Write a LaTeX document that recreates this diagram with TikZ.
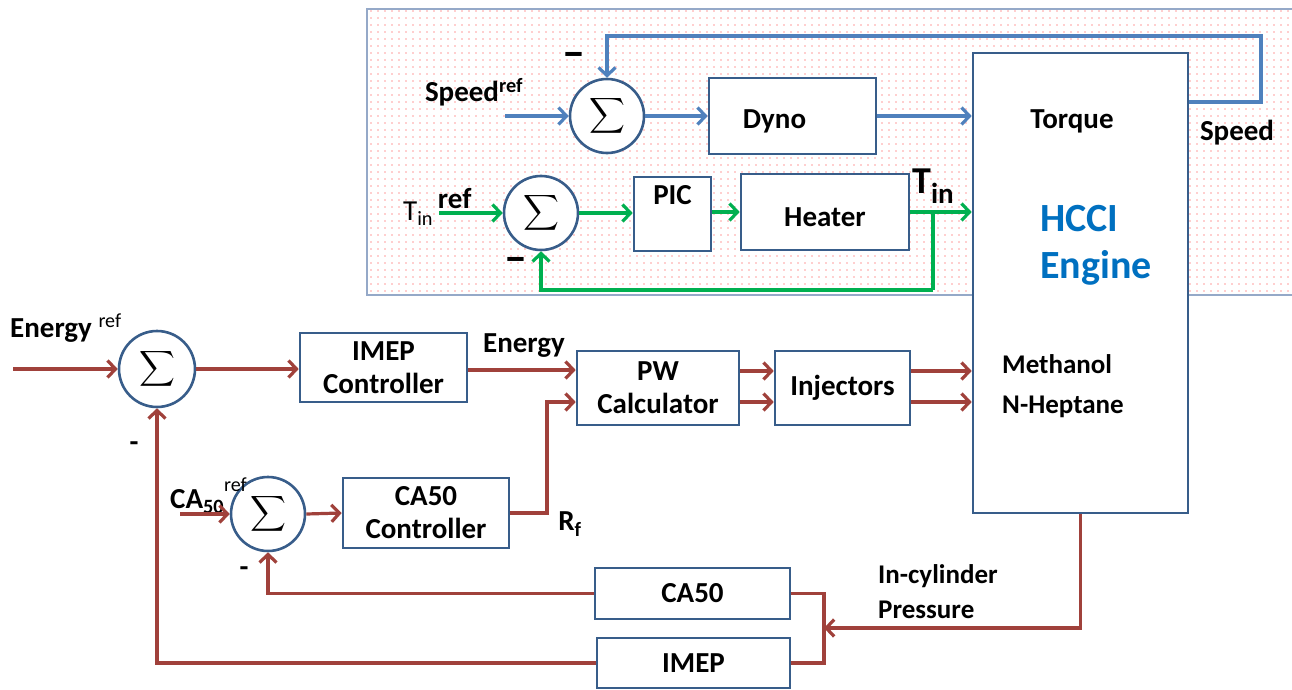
\documentclass[tikz,border=0pt]{standalone}
\usepackage{amsmath}
\usepackage{fontspec}
\setmainfont{Carlito}
\usetikzlibrary{arrows.meta,patterns.meta,calc}
\definecolor{lblue}{HTML}{4F81BD}
\definecolor{bblue}{HTML}{385D8A}
\definecolor{lgreen}{HTML}{00B050}
\definecolor{dred}{HTML}{A0413B}
\definecolor{etext}{HTML}{0070C0}
\definecolor{frm}{HTML}{95A9C8}
\begin{document}
\begin{tikzpicture}[x=1pt,y=-1pt,
  blk/.style={draw=bblue,line width=2.6pt,fill=white,align=center,font=\bfseries\fontsize{29}{33}\selectfont,inner sep=0pt},
  sumc/.style={circle,draw=bblue,line width=2.6pt,fill=white,minimum size=74pt,inner sep=0pt,font=\fontsize{27}{27}\selectfont},
  arr/.style={-{Straight Barb[length=8pt,width=17pt]},line width=3.2pt},
  bl/.style={arr,draw=lblue},
  gn/.style={arr,draw=lgreen},
  rd/.style={arr,draw=dred},
  rdl/.style={line width=3.2pt,draw=dred},
  lbl/.style={font=\bfseries\fontsize{29}{33}\selectfont,inner sep=0pt},
  mns/.style={font=\bfseries\fontsize{46}{46}\selectfont,inner sep=0pt},
  smns/.style={font=\bfseries\fontsize{29}{29}\selectfont,inner sep=0pt}
]
\fill[white] (0,0) rectangle (1292,690);
\useasboundingbox (0,0) rectangle (1292,690);
% dotted panel
\fill[white] (367,9) rectangle (1296,295);
\fill[pattern={Dots[distance=7pt,radius=0.7pt]},pattern color=red!80] (367,9) rectangle (1296,295);
\draw[frm,line width=1.5pt] (367,9) rectangle (1296,295);

% engine
\node[blk,minimum width=215pt,minimum height=460pt] (eng) at (1080.5,283) {};
\node[lbl] (ltorque) at (1072,121) {Torque};
\node[lbl] (lspeed) at (1237,133) {Speed};
\node[anchor=west,align=left,inner sep=0pt,text=etext,font=\bfseries\fontsize{40}{47}\selectfont] (lhcci) at (1040,245) {HCCI\\Engine};
\node[lbl,anchor=west,align=left,font=\bfseries\fontsize{27}{40}\selectfont] (lfuel) at (1002,386) {Methanol\\N-Heptane};

% speed loop
\node[sumc] (s1) at (607,116) {$\displaystyle\sum$};
\node[blk,minimum width=167pt,minimum height=76pt] (dyno) at (792.5,116) {\\[-4pt]Dyno\hspace*{36pt}};
\node[lbl] (lspref) at (474,92) {Speed\textsuperscript{ref}};
\node[mns] (m1) at (574,60) {–};
\coordinate (spin) at (505,116);
\coordinate (spc) at (1261,36);
\draw[bl] (spin) -- (s1.west);
\draw[bl] (s1.east) -- (dyno.west);
\draw[bl] (dyno.east) -- (dyno.east -| eng.west);
\draw[bl] (eng.east |- 0,102) -| (spc) -| (s1.north);

% Tin loop
\node[sumc] (s2) at (541,213) {$\displaystyle\sum$};
\node[blk,minimum width=77pt,minimum height=74pt] (pic) at (672.5,214) {PIC\\[6pt]};
\node[blk,minimum width=168pt,minimum height=76pt] (heater) at (825,212) {\\[-4pt]Heater};
\node[lbl,anchor=west] (ltinref) at (403,207) {\mdseries T\textsubscript{in}\,\raisebox{12pt}{\bfseries ref}};
\node[lbl,anchor=west] (ltin) at (912,186) {{\fontsize{38}{38}\selectfont T}\raisebox{-10pt}{in}};
\node[mns] (m2) at (516,265) {–};
\coordinate (tin) at (439,213);
\coordinate (tbot) at (933,290);
\coordinate (tbr) at (933,212);
\draw[gn] (tin) -- (s2.west);
\draw[gn] (s2.east) -- (s2.east -| pic.west);
\draw[gn] (pic.east |- heater.west) -- (heater.west);
\draw[gn] (heater.east) -- (heater.east -| eng.west);
\draw[line width=3.2pt,draw=lgreen] (tbr) -- (tbot);
\draw[gn] (tbot) -| (s2.south);

% energy loop
\node[sumc,minimum size=76pt] (s3) at (157,369) {$\displaystyle\sum$};
\node[blk,minimum width=167pt,minimum height=69pt] (imep) at (383.5,367.5) {IMEP\\Controller};
\node[blk,minimum width=162pt,minimum height=74pt] (pw) at (658,388) {PW\\Calculator};
\node[blk,minimum width=135pt,minimum height=74pt] (inj) at (842.5,388) {Injectors};
\node[lbl,anchor=west] (leref) at (10,328) {Energy \raisebox{10pt}{\mdseries\fontsize{20}{20}\selectfont ref}};
\node[lbl] (lenergy) at (524,346) {Energy};
\node[smns] (m3) at (134,447) {-};
\coordinate (ein) at (13,369);
\draw[rd] (ein) -- (s3.west);
\draw[rd] (s3.east) -- (s3.east -| imep.west);
\draw[rd] (imep.east |- 0,370) -- (pw.west |- 0,370);
\draw[rd] (pw.east |- 0,371) -- (inj.west |- 0,371);
\draw[rd] (pw.east |- 0,402) -- (inj.west |- 0,402);
\draw[rd] (inj.east |- 0,371) -- (eng.west |- 0,371);
\draw[rd] (inj.east |- 0,402) -- (eng.west |- 0,402);

% CA50 loop
\node[sumc] (s4) at (268,514) {$\displaystyle\sum$};
\node[blk,minimum width=166pt,minimum height=70pt] (cac) at (426,513) {CA50\\Controller};
\node[lbl,anchor=west] (lcaref) at (170,496) {CA\textsubscript{50}\raisebox{17pt}{\mdseries\fontsize{20}{20}\selectfont ref}};
\node[lbl] (lrf) at (570,524) {R\textsubscript{f}};
\node[smns] (m4) at (244,572) {-};
\coordinate (cain) at (180,514);
\coordinate (rfc) at (547,513);
\draw[rd] (cain) -- (s4.west);
\draw[rd] (s4.east) -- (cac.west);
\draw[rd] (cac.east) -- (rfc) |- (pw.west |- 0,402);

% feedback
\node[blk,minimum width=195pt,minimum height=51pt] (ca) at (692.5,593.5) {CA50};
\node[blk,minimum width=193pt,minimum height=50pt] (imp) at (693.5,663) {IMEP};
\node[lbl,anchor=west,align=left,font=\bfseries\fontsize{27}{35}\selectfont] (lpress) at (878,592) {In-cylinder\\Pressure};
\coordinate (fbj) at (824,628);
\draw[rd] (eng.south) |- (fbj);
\draw[rdl] (ca.east) -| (fbj) |- (imp.east);
\draw[rd] (ca.west) -| (s4.south);
\draw[rd] (imp.west) -| (s3.south);
\end{tikzpicture}
\end{document}
